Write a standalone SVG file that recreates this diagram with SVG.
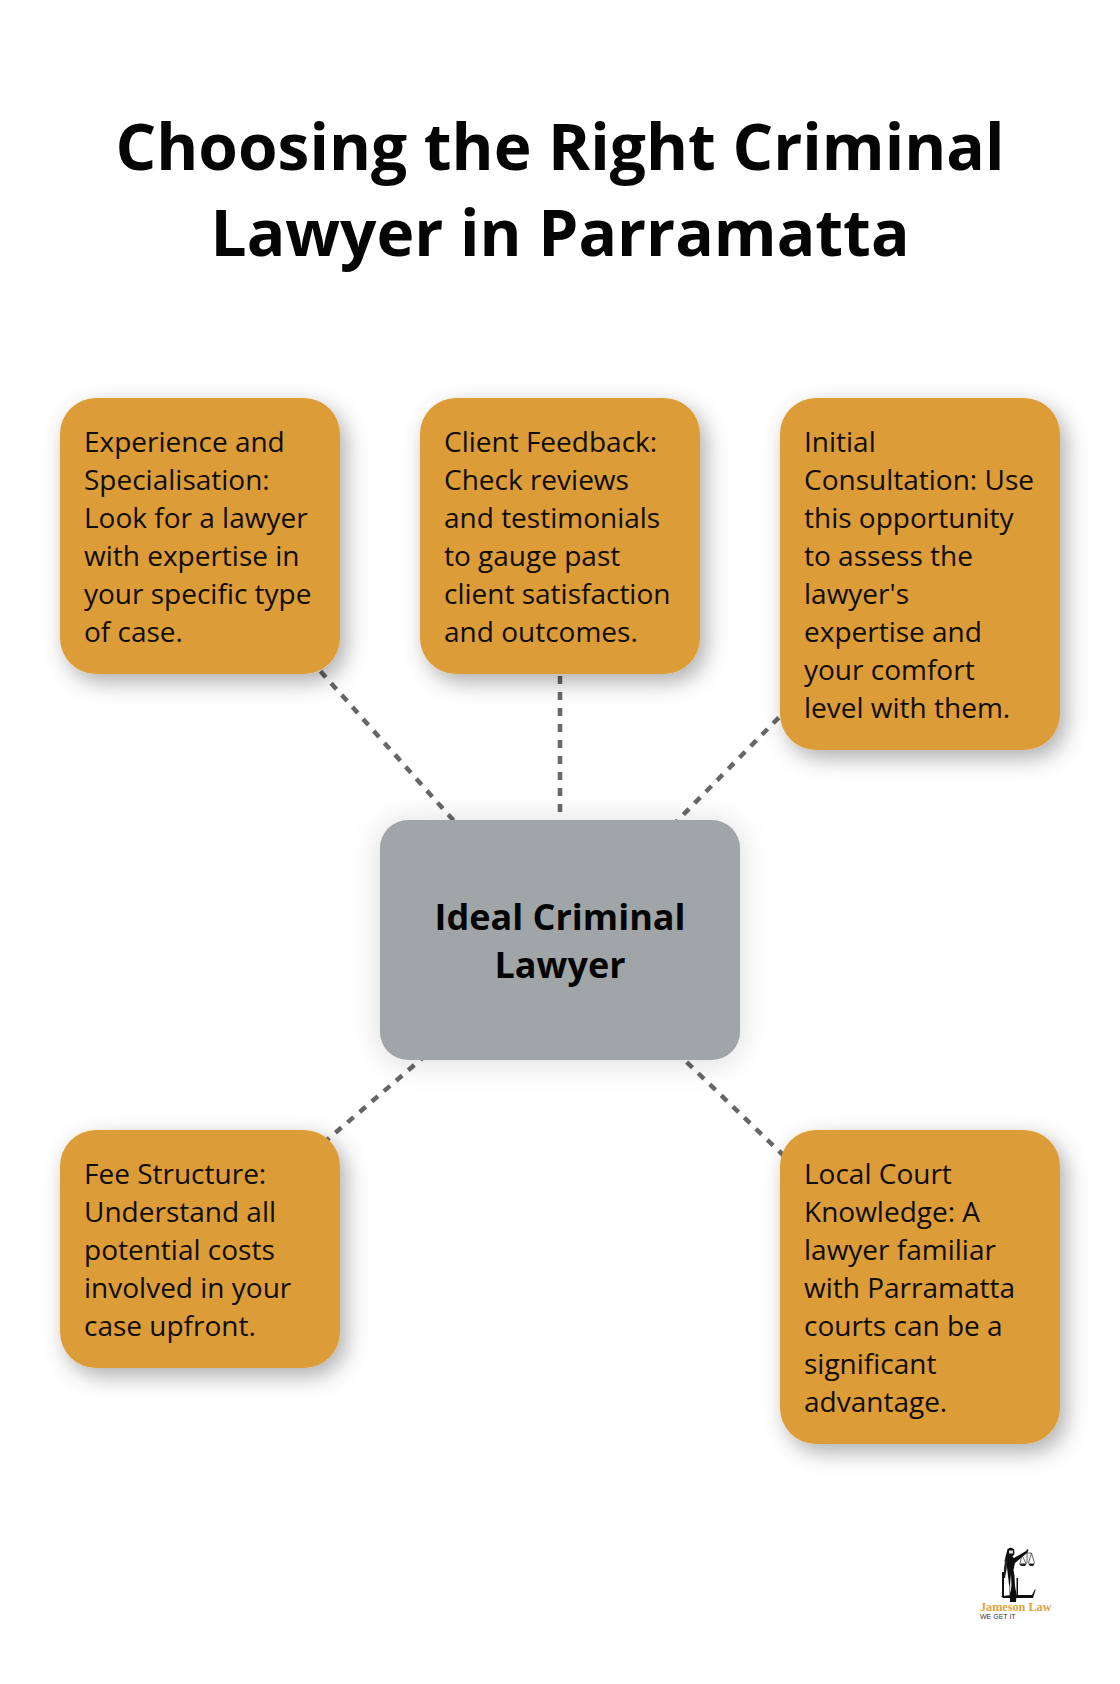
<svg xmlns="http://www.w3.org/2000/svg" width="1120" height="1684" viewBox="0 0 1120 1684">
<defs>
<filter id="sh" x="-25%" y="-25%" width="160%" height="160%"><feDropShadow dx="6" dy="8" stdDeviation="11" flood-color="#000" flood-opacity="0.32"/></filter>
<filter id="shc" x="-25%" y="-25%" width="150%" height="150%"><feDropShadow dx="0" dy="2" stdDeviation="15" flood-color="#000" flood-opacity="0.15"/></filter>
<filter id="soft" x="-10%" y="-10%" width="120%" height="120%"><feGaussianBlur stdDeviation="0.3"/></filter>
</defs>
<style>
text{font-family:"Open Sans","Noto Sans",sans-serif}
.title{font-size:64px;font-weight:700;fill:#050505;text-anchor:middle}
.t{font-size:28px;fill:#100c06}
.box{fill:#dc9c37;filter:url(#sh)}
.c{fill:#a0a5a8;filter:url(#shc)}
.ct{font-size:36px;font-weight:700;fill:#050505;text-anchor:middle}
.conn line{stroke:#666;stroke-width:4.500;stroke-dasharray:8 8;fill:none}
</style>
<rect width="1120" height="1684" fill="#fff"/>
<g id="title"><text class="title" x="560" y="169.500">Choosing the Right Criminal</text><text class="title" x="560" y="256">Lawyer in Parramatta</text></g>
<g id="connectors" class="conn">
<line x1="560" y1="940" x2="200" y2="536"/>
<line x1="560" y1="940" x2="560" y2="536"/>
<line x1="560" y1="940" x2="920" y2="574"/>
<line x1="560" y1="940" x2="200" y2="1249"/>
<line x1="560" y1="940" x2="920" y2="1287"/>
</g>
<g id="n1"><rect class="box" x="60" y="398" width="280" height="276" rx="36"/>
<text class="t"><tspan x="84" y="452">Experience and</tspan><tspan x="84" y="490">Specialisation:</tspan><tspan x="84" y="528">Look for a lawyer</tspan><tspan x="84" y="566">with expertise in</tspan><tspan x="84" y="604">your specific type</tspan><tspan x="84" y="642">of case.</tspan></text></g>
<g id="n2"><rect class="box" x="420" y="398" width="280" height="276" rx="36"/>
<text class="t"><tspan x="444" y="452">Client Feedback:</tspan><tspan x="444" y="490">Check reviews</tspan><tspan x="444" y="528">and testimonials</tspan><tspan x="444" y="566">to gauge past</tspan><tspan x="444" y="604">client satisfaction</tspan><tspan x="444" y="642">and outcomes.</tspan></text></g>
<g id="n3"><rect class="box" x="780" y="398" width="280" height="352" rx="36"/>
<text class="t"><tspan x="804" y="452">Initial</tspan><tspan x="804" y="490">Consultation: Use</tspan><tspan x="804" y="528">this opportunity</tspan><tspan x="804" y="566">to assess the</tspan><tspan x="804" y="604">lawyer's</tspan><tspan x="804" y="642">expertise and</tspan><tspan x="804" y="680">your comfort</tspan><tspan x="804" y="718">level with them.</tspan></text></g>
<g id="center"><rect class="c" x="380" y="820" width="360" height="240" rx="28"/>
<text class="ct"><tspan x="560" y="929.500">Ideal Criminal</tspan><tspan x="560" y="978">Lawyer</tspan></text></g>
<g id="n4"><rect class="box" x="60" y="1130" width="280" height="238" rx="36"/>
<text class="t"><tspan x="84" y="1184">Fee Structure:</tspan><tspan x="84" y="1222">Understand all</tspan><tspan x="84" y="1260">potential costs</tspan><tspan x="84" y="1298">involved in your</tspan><tspan x="84" y="1336">case upfront.</tspan></text></g>
<g id="n5"><rect class="box" x="780" y="1130" width="280" height="314" rx="36"/>
<text class="t"><tspan x="804" y="1184">Local Court</tspan><tspan x="804" y="1222">Knowledge: A</tspan><tspan x="804" y="1260">lawyer familiar</tspan><tspan x="804" y="1298">with Parramatta</tspan><tspan x="804" y="1336">courts can be a</tspan><tspan x="804" y="1374">significant</tspan><tspan x="804" y="1412">advantage.</tspan></text></g>
<g id="logo">
<g filter="url(#soft)">
<path d="M1007.500 1549l3-1.500 3.500 1.500.5 5-2 2.500 1.500 1.500 12-7 1.500-2 1 1-1.500 3-12 10-1.500 7 1 6 .5 10 1.500 8-.5 8h-6l-.5-12-1-10-1-8-1-9-2-2z" fill="#111"/>
<path d="M1009 1550.500h4v3h-4zM1011 1574l-1.500 14 1 5 1-8z" fill="#ddd"/>
<path d="M1005.500 1558l2 2-1 10-1.500 8h-1.500l.5-10z" fill="#222"/>
<path d="M1002 1572h2v25h-2zM1016.500 1578h1.500v18h-1.500z" fill="#111"/>
<path d="M1001 1596h2l8-1h21l3-6 .5 1-2.500 8h-30z" fill="#111"/>
<path d="M1027 1551v12M1027 1553h4.500M1031.500 1553l-3 10M1031.500 1553l3 10M1022 1555l-2 8.500M1022 1555l4 8.500" stroke="#222" stroke-width=".7" fill="none"/>
<path d="M1019 1563.500h8l-2 2.500h-4zM1028 1563.500h7l-2 2.500h-3z" fill="#222"/>
</g>
<text x="980" y="1610.700" style="font-family:'Liberation Serif',serif;font-size:12.200px;font-weight:700;fill:#dfa33c">Jameson Law</text>
<text x="980" y="1619.300" style="font-family:'Liberation Sans',sans-serif;font-size:7px;fill:#333">WE GET IT</text>
</g>
</svg>
